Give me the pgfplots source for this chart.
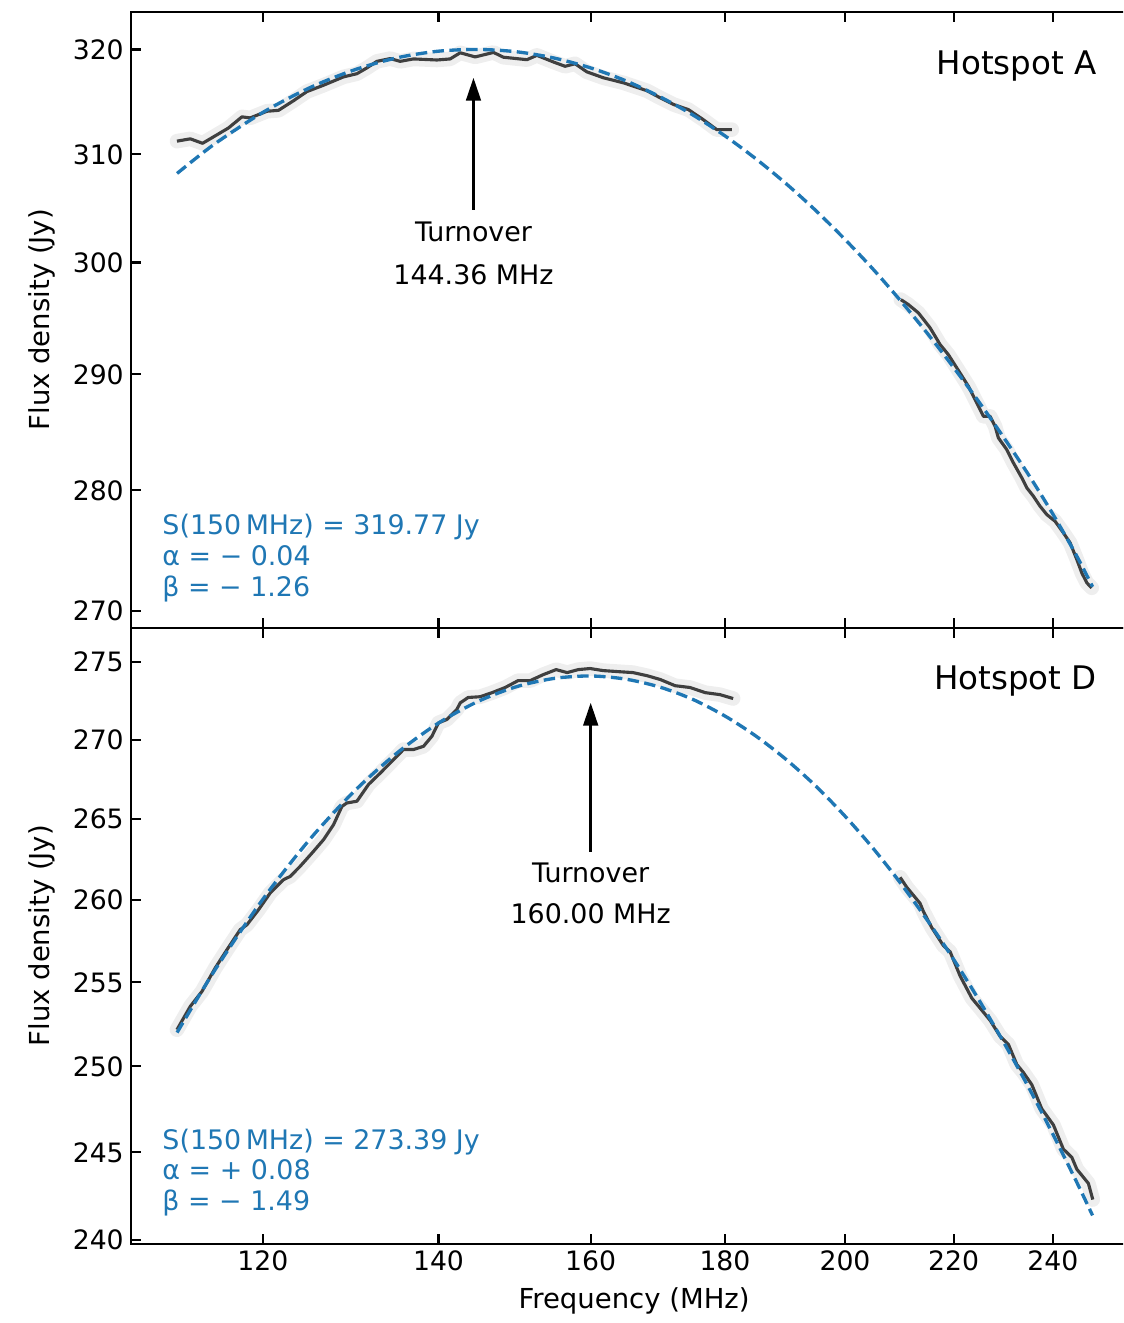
\documentclass[border=0pt]{standalone}
\usepackage{fontspec}
\setmainfont{DejaVu Sans}
\usepackage{pgfplots}
\usepackage{pgfplotstable}
\pgfplotsset{compat=1.18}
\usetikzlibrary{arrows.meta}
\definecolor{tabblue}{HTML}{1F77B4}
\definecolor{dline}{HTML}{3F3F3F}
\definecolor{bandc}{HTML}{EEEEEE}

\pgfplotstableread{
f S
111.29 311.22
112.60 311.45
113.82 311.03
114.89 311.64
116.44 312.48
117.82 313.53
118.68 313.43
120.43 314.06
121.66 314.15
123.28 315.08
124.73 315.94
126.56 316.54
128.80 317.35
130.33 317.66
131.47 318.21
132.63 318.85
134.19 319.11
135.37 318.85
136.96 319.08
139.80 318.98
141.44 319.08
142.69 319.66
144.58 319.27
146.92 319.72
148.21 319.24
151.29 319.01
152.62 319.43
154.86 318.79
156.45 318.37
157.83 318.60
159.46 317.83
161.80 317.25
164.66 316.77
168.08 316.03
170.05 315.34
172.05 314.70
174.32 314.22
176.63 313.27
178.72 312.32
181.09 312.32
}\topAone

\pgfplotstableread{
f S
210.03 296.66
211.43 296.21
213.29 295.46
215.49 294.12
217.39 292.64
218.98 291.76
220.60 290.58
222.86 288.97
224.82 287.23
225.81 286.36
227.14 286.36
228.14 285.49
228.80 284.49
230.49 283.48
231.83 282.35
233.54 281.07
234.57 280.22
235.93 279.51
237.32 278.66
238.72 277.96
240.47 277.40
242.22 276.43
243.65 275.59
245.09 274.20
246.17 273.10
247.25 272.27
248.33 271.86
}\topAtwo

\pgfplotstableread{
f S
111.3 308.22
115 310.94
120 313.96
125 316.30
130 318.02
135 319.18
140 319.82
145 320.00
150 319.77
155 319.16
160 318.22
165 316.97
170 315.46
175 313.70
180 311.72
185 309.56
190 307.22
195 304.73
200 302.11
205 299.38
210 296.54
215 293.62
220 290.62
225 287.56
230 284.44
235 281.28
240 278.00
245 274.55
248.5 271.95
}\fitA

\pgfplotstableread{
f S
111.29 252.17
112.60 253.56
113.76 254.45
115.09 255.86
116.28 256.96
117.64 258.18
118.34 258.48
119.55 259.40
120.78 260.42
122.20 261.24
122.92 261.44
124.00 262.06
125.28 262.88
126.56 263.71
127.68 264.64
128.62 265.78
129.19 266.00
130.33 266.10
131.66 267.15
133.02 267.88
134.58 268.72
135.76 269.36
136.96 269.36
138.17 269.57
139.19 270.20
140.00 271.06
141.03 271.27
142.27 271.91
142.69 272.34
143.69 272.68
145.21 272.74
146.75 273.00
148.43 273.32
150.13 273.77
151.72 273.77
153.46 274.16
155.22 274.48
156.73 274.29
158.25 274.48
159.92 274.55
161.76 274.42
163.90 274.35
166.07 274.29
168.12 274.09
170.05 273.84
172.30 273.45
174.58 273.32
176.90 273.00
179.24 272.87
181.30 272.61
}\botDone

\pgfplotstableread{
f S
209.90 261.38
211.13 260.76
213.61 259.78
214.23 259.29
215.82 258.30
218.02 257.21
219.31 256.84
221.24 255.38
223.52 254.05
225.16 253.45
227.14 252.73
229.14 251.78
230.81 251.30
232.52 250.11
233.87 249.64
235.60 248.93
237.68 247.51
240.11 246.58
242.22 245.18
244.02 244.71
245.09 244.02
247.59 243.21
248.55 242.29
}\botDtwo

\pgfplotstableread{
f S
111.3 252.00
115 255.69
120 260.04
125 263.70
130 266.72
135 269.15
140 271.05
145 272.45
150 273.39
155 273.92
160 274.07
165 273.87
170 273.36
175 272.56
180 271.50
185 270.21
190 268.71
195 267.03
200 265.17
205 263.16
210 261.01
215 258.74
220 256.37
225 253.90
230 251.35
235 248.74
240 246.05
245 243.32
248.5 241.38
}\fitD

\tikzset{
  bandline/.style={bandc, line width=7pt, line join=round, line cap=round},
  dataline/.style={dline, line width=1.5pt, line join=round},
  fitline/.style={tabblue, line width=1.6pt, dash pattern=on 5.5pt off 2.6pt},
  txt/.style={font=\fontsize{12.9}{15}\selectfont, inner sep=0pt},
}

\begin{document}
\begin{tikzpicture}
\useasboundingbox (0pt,0pt) rectangle (539.04pt,635.04pt);
\clip (0pt,0pt) rectangle (539.04pt,635.04pt);

% Top panel: Hotspot A
\begin{axis}[
  at={(62.88pt,333.6pt)}, anchor=south west,
  scale only axis, width=482.88pt, height=295.68pt,
  xmode=log, ymode=log, xmin=106.9, xmax=258.4,
  ymin=268.6, ymax=323.66,
  xtick={120,140,160,180,200,220,240}, xticklabels={},
  ytick={270,280,290,300,310,320}, yticklabels={270,280,290,300,310,320},
  tick align=inside, xtick pos=both, ytick pos=left,
  major tick length=4.8pt,
  every tick/.style={black, line width=1pt},
  axis line style={line width=1.1pt},
  ticklabel style={font=\fontsize{12.8}{15}\selectfont},
  ylabel={Flux density (Jy)},
  every axis y label/.style={at={(rel axis cs:-0.0885,0.5)}, rotate=90, anchor=center, font=\fontsize{13.2}{15}\selectfont},
]
\addplot[bandline] table[x=f,y=S] {\topAone};
\addplot[bandline] table[x=f,y=S] {\topAtwo};
\addplot[dataline] table[x=f,y=S] {\topAone};
\addplot[dataline] table[x=f,y=S] {\topAtwo};
\addplot[fitline, smooth] table[x=f,y=S] {\fitA};
\draw[-{Triangle[width=7pt,length=11pt]}, line width=1.4pt, black]
  ({axis cs:144.36,300}|-{rel axis cs:0,0.6786}) -- ({axis cs:144.36,300}|-{rel axis cs:0,0.8929});
\node[txt, anchor=base] at ({axis cs:144.36,300}|-{rel axis cs:0,0.6266}) {Turnover};
\node[txt, anchor=base] at ({axis cs:144.36,300}|-{rel axis cs:0,0.5568}) {144.36 MHz};
\node[txt, anchor=base east, font=\fontsize{15.6}{18}\selectfont] at (rel axis cs:0.9602,0.898) {Hotspot A};
\node[txt, anchor=base west, text=tabblue] at (rel axis cs:0.0308,0.151) {S(150\,MHz) = 319.77 Jy};
\node[txt, anchor=base west, text=tabblue] at (rel axis cs:0.0308,0.1006) {α = − 0.04};
\node[txt, anchor=base west, text=tabblue] at (rel axis cs:0.0308,0.0503) {β = − 1.26};
\end{axis}

% Bottom panel: Hotspot D
\begin{axis}[
  at={(62.88pt,37.92pt)}, anchor=south west,
  scale only axis, width=482.88pt, height=295.68pt,
  xmode=log, ymode=log, xmin=106.9, xmax=258.4,
  ymin=239.78, ymax=277.21,
  xtick={120,140,160,180,200,220,240}, xticklabels={120,140,160,180,200,220,240},
  ytick={240,245,250,255,260,265,270,275}, yticklabels={240,245,250,255,260,265,270,275},
  tick align=inside, xtick pos=both, ytick pos=left,
  major tick length=4.8pt,
  every tick/.style={black, line width=1pt},
  axis line style={line width=1.1pt},
  ticklabel style={font=\fontsize{12.8}{15}\selectfont},
  ylabel={Flux density (Jy)},
  every axis y label/.style={at={(rel axis cs:-0.0885,0.5)}, rotate=90, anchor=center, font=\fontsize{13.2}{15}\selectfont},
  xlabel={Frequency (MHz)},
  every axis x label/.style={at={(rel axis cs:0.5,-0.0925)}, anchor=center, font=\fontsize{13.2}{15}\selectfont},
]
\addplot[bandline] table[x=f,y=S] {\botDone};
\addplot[bandline] table[x=f,y=S] {\botDtwo};
\addplot[dataline] table[x=f,y=S] {\botDone};
\addplot[dataline] table[x=f,y=S] {\botDtwo};
\addplot[fitline, smooth] table[x=f,y=S] {\fitD};
\draw[-{Triangle[width=7pt,length=11pt]}, line width=1.4pt, black]
  ({axis cs:160,260}|-{rel axis cs:0,0.6364}) -- ({axis cs:160,260}|-{rel axis cs:0,0.8782});
\node[txt, anchor=base] at ({axis cs:160,260}|-{rel axis cs:0,0.5860}) {Turnover};
\node[txt, anchor=base] at ({axis cs:160,260}|-{rel axis cs:0,0.5195}) {160.00 MHz};
\node[txt, anchor=base east, font=\fontsize{15.6}{18}\selectfont] at (rel axis cs:0.9602,0.8994) {Hotspot D};
\node[txt, anchor=base west, text=tabblue] at (rel axis cs:0.0308,0.1526) {S(150\,MHz) = 273.39 Jy};
\node[txt, anchor=base west, text=tabblue] at (rel axis cs:0.0308,0.1039) {α = + 0.08};
\node[txt, anchor=base west, text=tabblue] at (rel axis cs:0.0308,0.0536) {β = − 1.49};
\end{axis}
\end{tikzpicture}
\end{document}
